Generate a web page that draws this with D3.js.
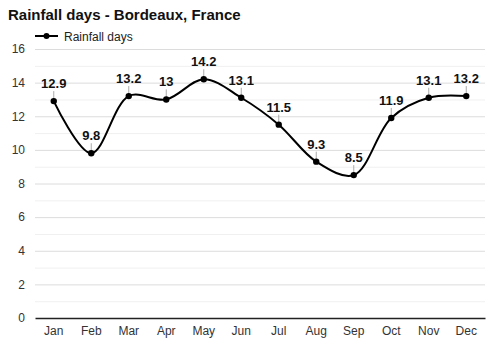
<!DOCTYPE html>
<html>
<head>
<meta charset="utf-8">
<script src="https://cdn.jsdelivr.net/npm/d3@7"></script>
<style>
  html, body { margin: 0; padding: 0; background: #fff; }
  svg { display: block; font-family: Arial, "Liberation Sans", sans-serif; }
</style>
</head>
<body>
<svg id="chart" width="500" height="350"></svg>
<script>
// Monthly rainfall days, Bordeaux
const months = ["Jan", "Feb", "Mar", "Apr", "May", "Jun", "Jul", "Aug", "Sep", "Oct", "Nov", "Dec"];
const rainfallDays = [12.9, 9.8, 13.2, 13, 14.2, 13.1, 11.5, 9.3, 8.5, 11.9, 13.1, 13.2];
const yTicks = [0, 2, 4, 6, 8, 10, 12, 14, 16];
const yMinorTicks = [1, 3, 5, 7, 9, 11, 13, 15];

const svg = d3.select("#chart");
const margin = { left: 35, right: 15, top: 49, bottom: 32 };
const W = 500, H = 350;

const x = d3.scaleBand().domain(months).range([margin.left, W - margin.right]);
const y = d3.scaleLinear().domain([0, 16]).range([H - margin.bottom, margin.top]);

// Title and legend
svg.append("text")
  .attr("x", 8).attr("y", 20)
  .attr("font-size", 15).attr("font-weight", "bold").attr("fill", "#111")
  .text("Rainfall days - Bordeaux, France");

const legend = svg.append("g").attr("transform", "translate(35,36)");
legend.append("line").attr("x1", 0).attr("x2", 23).attr("y1", 0).attr("y2", 0)
  .attr("stroke", "#000").attr("stroke-width", 2);
legend.append("circle").attr("cx", 11.5).attr("cy", 0).attr("r", 3).attr("fill", "#000");
legend.append("text").attr("x", 29).attr("y", 4.5)
  .attr("font-size", 12).attr("fill", "#222").text("Rainfall days");

// Gridlines
svg.append("g").selectAll("line").data(yMinorTicks).join("line")
  .attr("x1", margin.left).attr("x2", W - margin.right)
  .attr("y1", d => y(d) + 0.5).attr("y2", d => y(d) + 0.5)
  .attr("stroke", "#f0f0f0").attr("stroke-width", 1);
svg.append("g").selectAll("line").data(yTicks.filter(d => d > 0)).join("line")
  .attr("x1", margin.left).attr("x2", W - margin.right)
  .attr("y1", d => y(d) + 0.5).attr("y2", d => y(d) + 0.5)
  .attr("stroke", "#dcdcdc").attr("stroke-width", 1);

// Y axis labels
const yAxis = d3.axisLeft(y).tickValues(yTicks).tickSize(0).tickPadding(10);
svg.append("g").attr("transform", `translate(${margin.left},0)`).call(yAxis)
  .call(g => g.select(".domain").remove())
  .call(g => g.selectAll("text").attr("font-size", 12).attr("fill", "#333")
    .attr("font-family", "Arial, 'Liberation Sans', sans-serif"));

// X axis
const xAxis = d3.axisBottom(x).tickSize(0).tickPadding(8);
svg.append("g").attr("transform", `translate(0,${y(0)})`).call(xAxis)
  .call(g => g.select(".domain").attr("stroke", "#222").attr("stroke-width", 1.5))
  .call(g => g.selectAll("text").attr("font-size", 12).attr("fill", "#333")
    .attr("font-family", "Arial, 'Liberation Sans', sans-serif"));

const cx = d => x(d) + x.bandwidth() / 2;
const pts = months.map((m, i) => ({ m, v: rainfallDays[i] }));

// Smoothed series line
const line = d3.line().x(d => cx(d.m)).y(d => y(d.v)).curve(d3.curveCatmullRom.alpha(0.5));
svg.append("path").datum(pts)
  .attr("d", line).attr("fill", "none").attr("stroke", "#000").attr("stroke-width", 2);

// Leader lines, points and value labels
const marks = svg.append("g").selectAll("g").data(pts).join("g");
marks.append("line")
  .attr("x1", d => cx(d.m)).attr("x2", d => cx(d.m))
  .attr("y1", d => y(d.v)).attr("y2", d => y(d.v) - 10)
  .attr("stroke", "#aaa").attr("stroke-width", 1);
marks.append("circle")
  .attr("cx", d => cx(d.m)).attr("cy", d => y(d.v)).attr("r", 3.2).attr("fill", "#000");
marks.append("text")
  .attr("x", d => cx(d.m)).attr("y", d => y(d.v) - 13)
  .attr("text-anchor", "middle").attr("font-size", 13).attr("font-weight", "bold").attr("fill", "#111")
  .text(d => d.v);
</script>
</body>
</html>
